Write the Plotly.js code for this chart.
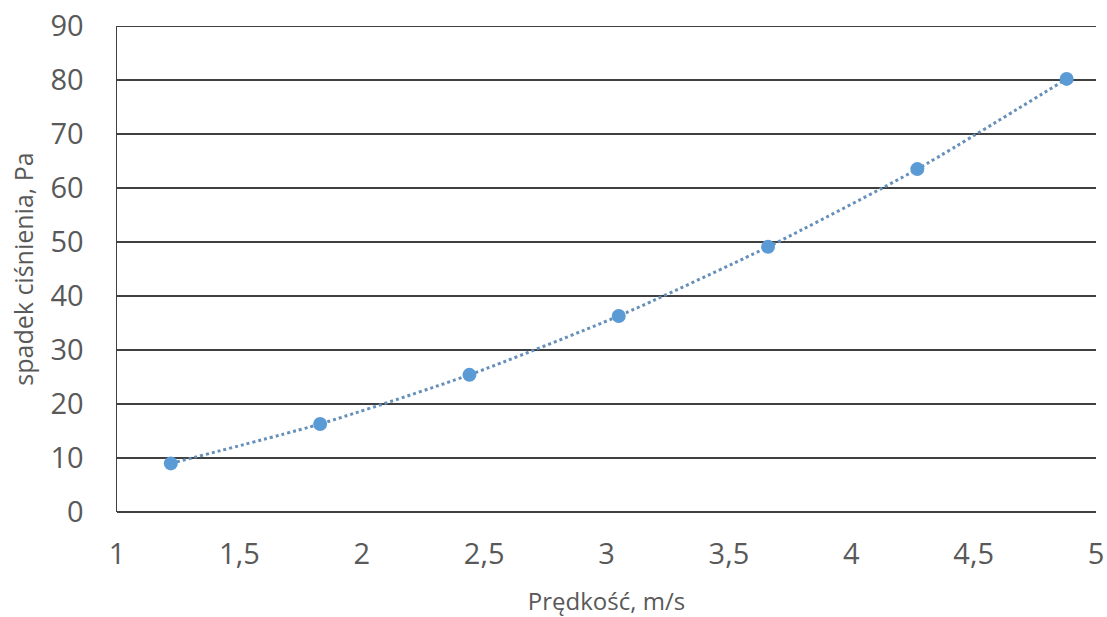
<!DOCTYPE html>
<html>
<head>
<meta charset="utf-8">
<script src="https://cdn.plot.ly/plotly-3.0.1.min.js"></script>
<style>html,body{margin:0;padding:0;background:#fff;}#chart{width:1107px;height:617px;}</style>
</head>
<body>
<div id="chart"></div>
<script>
const velocity = [1.22, 1.83, 2.44, 3.05, 3.66, 4.27, 4.88];
const pressureDrop = [9.0, 16.3, 25.4, 36.3, 49.1, 63.5, 80.2];
const xTickVals = [1, 1.5, 2, 2.5, 3, 3.5, 4, 4.5, 5];
const xTickText = ['1', '1,5', '2', '2,5', '3', '3,5', '4', '4,5', '5'];
const yTickVals = [0, 10, 20, 30, 40, 50, 60, 70, 80, 90];
const xTitle = 'Prędkość, m/s';
const yTitle = 'spadek ciśnienia, Pa';

const trend = {
  x: velocity, y: pressureDrop, type: 'scatter', mode: 'lines',
  line: {shape: 'spline', smoothing: 0.6, dash: 'dot', width: 3, color: '#6690ba'},
  hoverinfo: 'skip', showlegend: false
};
const pts = {
  x: velocity, y: pressureDrop, type: 'scatter', mode: 'markers',
  marker: {size: 14, color: '#5b9bd5'}, showlegend: false
};
const yMax = yTickVals[yTickVals.length - 1];
const font = {family: 'Open Sans, Noto Sans, sans-serif', color: '#595959'};
Plotly.newPlot('chart', [trend, pts], {
  width: 1107, height: 617,
  margin: {l: 117, r: 11, t: 26, b: 105},
  paper_bgcolor: '#fff', plot_bgcolor: '#fff',
  font: font,
  xaxis: {
    range: [1, 5], tickvals: xTickVals, ticktext: xTickText,
    showgrid: false, zeroline: false, showline: false, ticks: '',
    tickfont: {size: 29, color: '#595959'}, ticklabelstandoff: 22,
    title: {text: xTitle, font: {size: 24, color: '#595959'}, standoff: 24}
  },
  yaxis: {
    range: [0, yMax], tickvals: yTickVals,
    showgrid: true, gridcolor: '#404040', gridwidth: 1.5,
    zeroline: true, zerolinecolor: '#404040', zerolinewidth: 1.5,
    showline: true, linecolor: '#404040', linewidth: 1.5, ticks: '',
    tickfont: {size: 29, color: '#595959'}, ticklabelstandoff: 26,
    title: {text: yTitle, font: {size: 25, color: '#595959'}, standoff: 10}
  },
  shapes: [{type: 'line', xref: 'paper', yref: 'y', x0: 0, x1: 1, y0: yMax, y1: yMax,
            line: {color: '#404040', width: 2}, layer: 'below'}]
}, {displayModeBar: false, staticPlot: true});
</script>
</body>
</html>
